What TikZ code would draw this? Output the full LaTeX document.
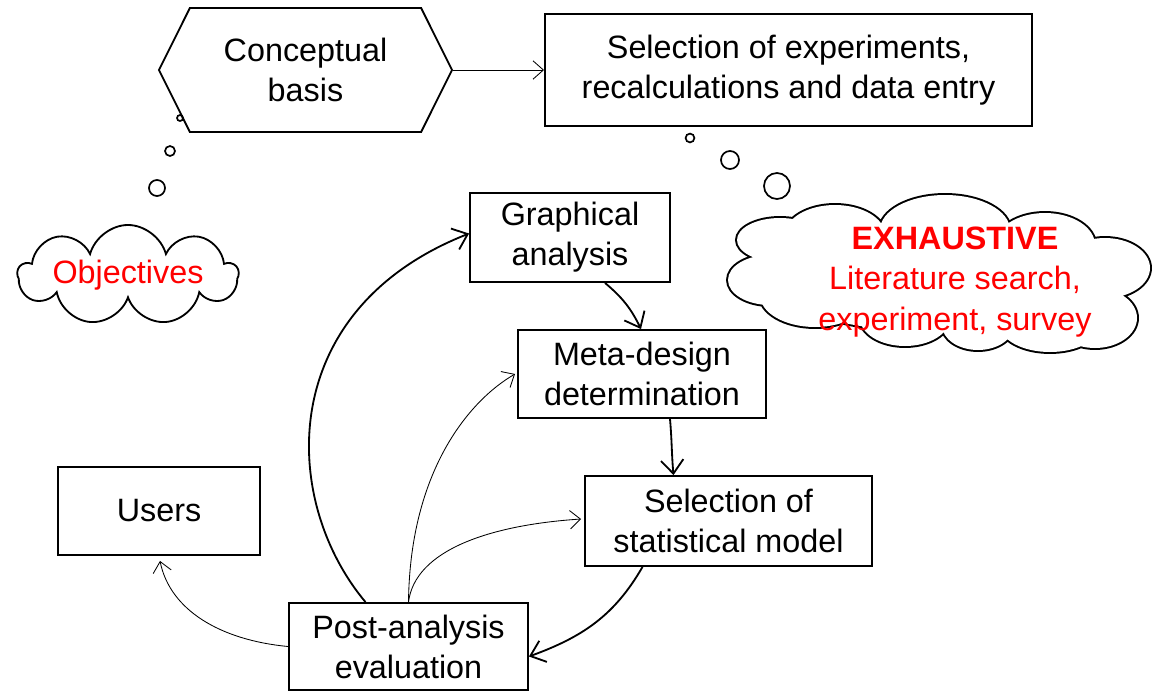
\documentclass[tikz,border=0pt]{standalone}
\usepackage{fontspec}
\setmainfont{Liberation Sans}
\usetikzlibrary{shapes.symbols,shapes.geometric,arrows.meta,calc}
\begin{document}
\begin{tikzpicture}[x=0.025cm,y=-0.025cm,
  every node/.style={font=\fontsize{23}{28.5}\selectfont, align=center},
  box/.style={draw, line width=1.3pt, rectangle, inner sep=0pt},
  cloudbox/.style={draw, line width=1.3pt, cloud, cloud ignores aspect, inner sep=0pt, text=red},
  bubble/.style={draw, line width=1.2pt, circle, inner sep=0pt},
  thinarr/.style={line width=0.6pt, -{Straight Barb[length=2.6mm,width=4.6mm]}},
  thickarr/.style={line width=1.3pt, -{Straight Barb[length=3.4mm,width=5.6mm]}}]
\useasboundingbox (0,0) rectangle (1160,692);

\node[draw, line width=1.3pt, signal, signal to=west and east, signal pointer angle=127,
      minimum width=7.325cm, minimum height=3.1cm, inner sep=0pt] (concept) at (305.5,70) {Conceptual\\basis};
\node[box, minimum width=12.175cm, minimum height=2.8cm] (selexp) at (788.5,70) {Selection of experiments,\\recalculations and data entry};
\node[box, minimum width=5cm, minimum height=2.225cm] (graph) at (570,237.5) {Graphical\\analysis};
\node[box, minimum width=6.2cm, minimum height=2.2cm] (meta) at (642,374) {Meta-design\\determination};
\node[box, minimum width=7.175cm, minimum height=2.25cm] (stat) at (728.5,521) {Selection of\\statistical model};
\node[box, minimum width=5.05cm, minimum height=2.2cm] (users) at (159,511) {Users};
\node[box, minimum width=5.975cm, minimum height=2.175cm] (post) at (408.5,646.5) {Post-analysis\\evaluation};

\node[cloudbox, cloud puffs=9, minimum width=5.5cm, minimum height=2.5cm] (obj) at (128,275) {Objectives};

% EXHAUSTIVE cloud: union of puffs (outline only)
\def\exhpuffs{
  (835,235) ellipse[x radius=50, y radius=30]
  (945,230) ellipse[x radius=65, y radius=35]
  (1045,245) ellipse[x radius=50, y radius=32]
  (1105,268) ellipse[x radius=45, y radius=30]
  (1095,318) ellipse[x radius=42, y radius=30]
  (1050,325) ellipse[x radius=50, y radius=27]
  (978,325) ellipse[x radius=36, y radius=25]
  (905,318) ellipse[x radius=45, y radius=28]
  (815,295) ellipse[x radius=55, y radius=32]
  (770,280) ellipse[x radius=42, y radius=25]
  (780,240) ellipse[x radius=43, y radius=22]
  (940,277) ellipse[x radius=175, y radius=55]}
\draw[line width=2.8pt] \exhpuffs;
\fill[white] \exhpuffs;
\node[text=red] (exhtext) at (955,282) {\textbf{EXHAUSTIVE}\\Literature search,\\experiment, survey};

\node[bubble, minimum size=0.15cm] (b1) at (180,118) {};
\node[bubble, minimum size=0.25cm] (b2) at (170,151) {};
\node[bubble, minimum size=0.4cm] (b3) at (157,188) {};
\node[bubble, minimum size=0.22cm] (b4) at (690,138) {};
\node[bubble, minimum size=0.45cm] (b5) at (730,160) {};
\node[bubble, minimum size=0.65cm] (b6) at (777,186) {};

\draw[thinarr] (concept.east) -- (selexp.west);
\draw[thickarr] ($(graph.south)+(35,0)$) to[bend left=12] ($(meta.north)+(-1,0)$);
\draw[thickarr] ($(meta.south)+(28,0)$) to[out=-85, in=95] ($(stat.north)+(-55,0)$);
\draw[thickarr] ($(stat.south)+(-86,0)$) to[out=-120, in=20] ($(post.east)+(0,10)$);
\draw[thickarr] ($(post.north)+(-43,0)$) .. controls (280,500) and (275,310) .. ($(graph.west)+(0,-4)$);
\draw[thinarr] (post.north) .. controls (410,470) and (470,400) .. ($(meta.west)+(-2,0)$);
\draw[thinarr] (post.north) .. controls (415,550) and (490,525) .. ($(stat.west)+(-3,-2)$);
\draw[thinarr] (post.west) .. controls (220,640) and (170,610) .. ($(users.south)+(1,5)$);
\end{tikzpicture}
\end{document}
